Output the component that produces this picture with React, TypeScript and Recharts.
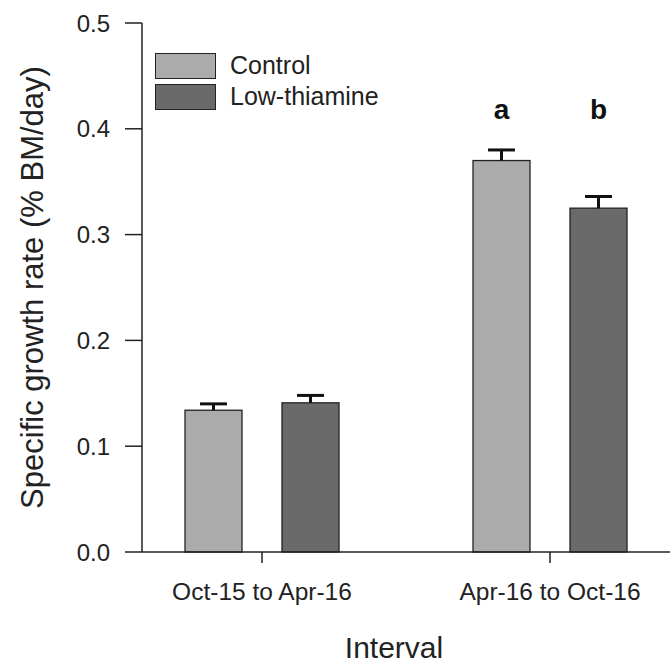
import { Bar, BarChart, Label, LabelList, Legend, XAxis, YAxis } from 'recharts';

const intervals = ['Oct-15 to Apr-16', 'Apr-16 to Oct-16'];
const controlRate = [0.134, 0.37];
const controlSE = [0.006, 0.01];
const lowThiamineRate = [0.141, 0.325];
const lowThiamineSE = [0.007, 0.011];
const controlLetter = ['', 'a'];
const lowThiamineLetter = ['', 'b'];
const letterLevel = 0.418;
const yTicks = [0, 0.1, 0.2, 0.3, 0.4, 0.5];

const data = intervals.map((interval, i) => ({
  interval,
  control: controlRate[i],
  controlSE: controlSE[i],
  controlLetter: controlLetter[i],
  lowThiamine: lowThiamineRate[i],
  lowThiamineSE: lowThiamineSE[i],
  lowThiamineLetter: lowThiamineLetter[i],
}));

const FONT = '"Liberation Sans", Arial, sans-serif';
const INK = '#222';
const CONTROL_FILL = '#ababab';
const LOW_FILL = '#6a6a6a';

// bar + upper-only error whisker, scaled from the bar's own pixel height
function barWithError(valueKey: string, seKey: string) {
  return (props: any) => {
    const { x, y, width, height, fill, payload } = props;
    const v = payload[valueKey];
    const pxPerUnit = v ? height / v : 0;
    const top = y - payload[seKey] * pxPerUnit;
    const cx = x + width / 2;
    return (
      <g>
        <rect x={x} y={y} width={width} height={height} fill={fill} stroke={INK} strokeWidth={1.3} />
        <line x1={cx} y1={y} x2={cx} y2={top} stroke="#111" strokeWidth={3} />
        <line x1={cx - 13.5} y1={top} x2={cx + 13.5} y2={top} stroke="#111" strokeWidth={3} />
      </g>
    );
  };
}

function letterLabel(valueKey: string) {
  return (props: any) => {
    const { x, y, width, height, value, index } = props;
    if (!value) return null;
    const v = data[index][valueKey as 'control'];
    const pxPerUnit = height / v;
    const ly = y + height - letterLevel * pxPerUnit;
    return (
      <text
        x={x + width / 2}
        y={ly}
        textAnchor="middle"
        dominantBaseline="central"
        fontFamily={FONT}
        fontSize={28}
        fontWeight="bold"
        fill="#111"
      >
        {value}
      </text>
    );
  };
}

function renderLegend() {
  const items = [
    { name: 'Control', fill: CONTROL_FILL },
    { name: 'Low-thiamine', fill: LOW_FILL },
  ];
  return (
    <div style={{ fontFamily: FONT }}>
      {items.map((item) => (
        <div key={item.name} style={{ display: 'flex', alignItems: 'center', height: 31 }}>
          <div
            style={{
              width: 59,
              height: 24,
              background: item.fill,
              border: `1.3px solid ${INK}`,
              marginRight: 14,
            }}
          />
          <span style={{ fontSize: 25, color: INK }}>{item.name}</span>
        </div>
      ))}
    </div>
  );
}

function renderYLabel(props: any) {
  const { viewBox } = props;
  const cy = viewBox.y + viewBox.height / 2;
  return (
    <text
      x={32}
      y={cy}
      transform={`rotate(-90, 32, ${cy})`}
      textAnchor="middle"
      dominantBaseline="central"
      fontFamily={FONT}
      fontSize={31}
      fill={INK}
    >
      Specific growth rate (% BM/day)
    </text>
  );
}

function renderXLabel(props: any) {
  const { viewBox } = props;
  return (
    <text
      x={viewBox.x + viewBox.width / 2 - 12}
      y={viewBox.y + 106}
      textAnchor="middle"
      fontFamily={FONT}
      fontSize={30}
      fill={INK}
    >
      Interval
    </text>
  );
}

export default function App() {
  return (
    <div style={{ position: 'absolute', left: 0, top: 0, width: 670, height: 667, background: '#fff' }}>
      <BarChart
        width={670}
        height={667}
        data={data}
        margin={{ top: 23, right: 0, bottom: 55, left: 0 }}
        barCategoryGap={67}
        barGap={40}
      >
        <XAxis
          dataKey="interval"
          height={60}
          padding={{ left: -24, right: -24 }}
          tickSize={11}
          tickMargin={20}
          axisLine={{ stroke: INK, strokeWidth: 1.5 }}
          tickLine={{ stroke: INK, strokeWidth: 1.5 }}
          tick={{ fill: INK, fontSize: 24.5, fontFamily: FONT }}
        >
          <Label content={renderXLabel} />
        </XAxis>
        <YAxis
          width={142}
          domain={[0, 0.5]}
          ticks={yTicks}
          interval={0}
          tickFormatter={(v: number) => v.toFixed(1)}
          tickSize={17}
          tickMargin={15}
          axisLine={{ stroke: INK, strokeWidth: 1.5 }}
          tickLine={{ stroke: INK, strokeWidth: 1.5 }}
          tick={{ fill: INK, fontSize: 24, fontFamily: FONT }}
        >
          <Label content={renderYLabel} />
        </YAxis>
        <Legend
          layout="horizontal"
          verticalAlign="middle"
          align="center"
          content={renderLegend}
          wrapperStyle={{ position: 'absolute', top: 50, left: 155, width: 'auto' }}
        />
        <Bar
          dataKey="control"
          name="Control"
          fill={CONTROL_FILL}
          barSize={57}
          isAnimationActive={false}
          shape={barWithError('control', 'controlSE')}
        >
          <LabelList dataKey="controlLetter" content={letterLabel('control')} />
        </Bar>
        <Bar
          dataKey="lowThiamine"
          name="Low-thiamine"
          fill={LOW_FILL}
          barSize={57}
          isAnimationActive={false}
          shape={barWithError('lowThiamine', 'lowThiamineSE')}
        >
          <LabelList dataKey="lowThiamineLetter" content={letterLabel('lowThiamine')} />
        </Bar>
      </BarChart>
    </div>
  );
}
